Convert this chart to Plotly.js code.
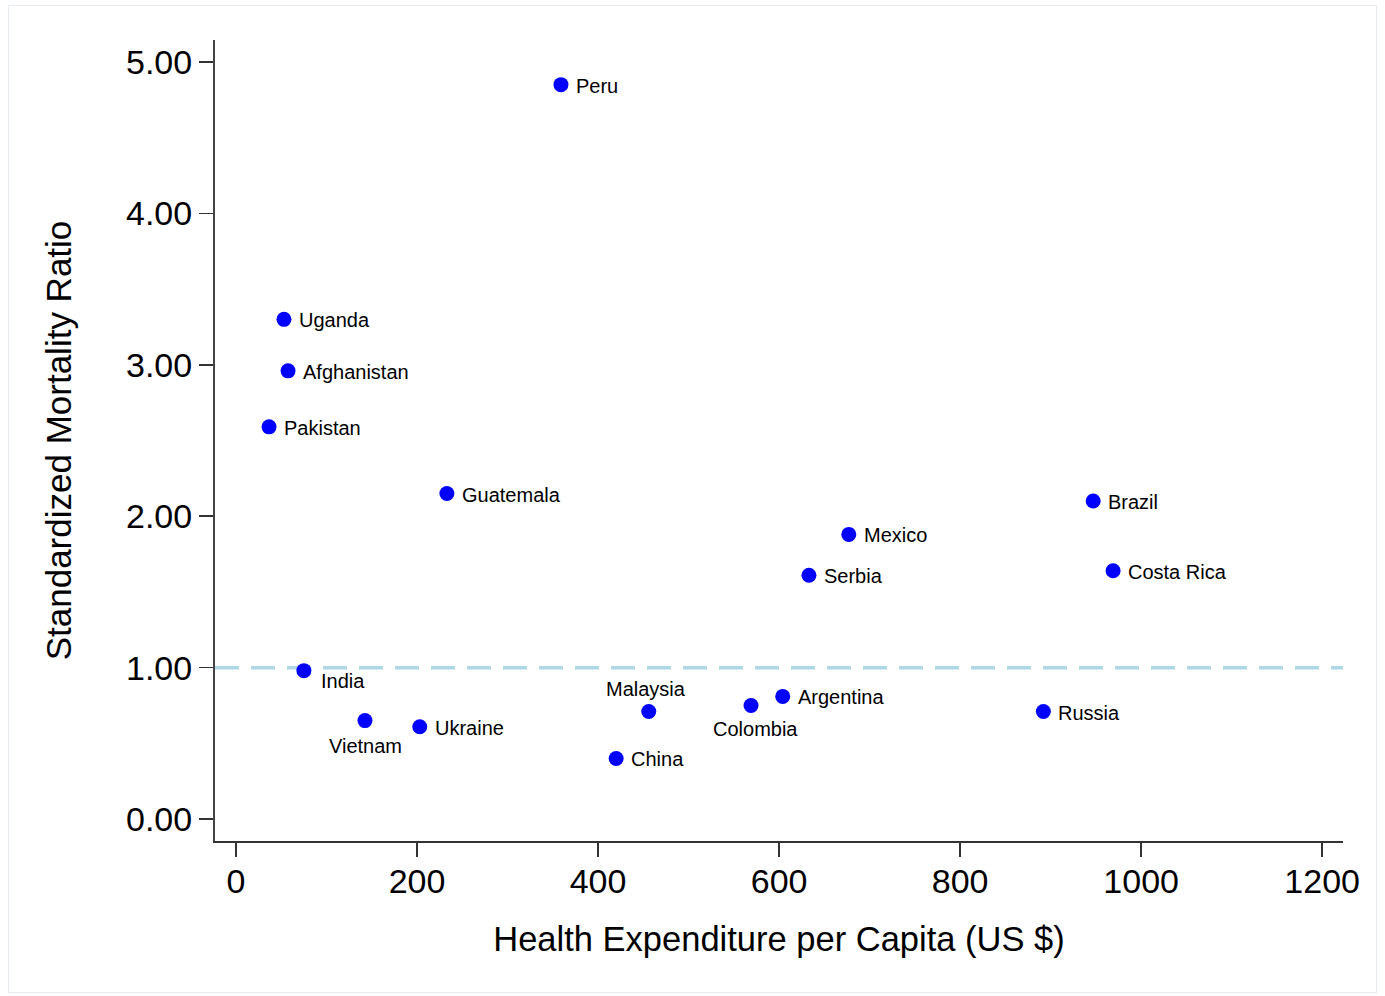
<!DOCTYPE html>
<html>
<head>
<meta charset="utf-8">
<script src="https://cdn.plot.ly/plotly-3.0.1.min.js"></script>
<style>
  html, body { margin: 0; padding: 0; background: #ffffff; }
  #frame { position: absolute; left: 8px; top: 5px; width: 1369px; height: 988px; border: 1px solid #e6ecf0; box-sizing: border-box; }
  #chart { position: absolute; left: 0; top: 0; width: 1385px; height: 996px; }
</style>
</head>
<body>
<div id="frame"></div>
<div id="chart"></div>
<script>
const countries = ["Peru","Uganda","Afghanistan","Pakistan","Guatemala","Brazil","Mexico","Serbia","Costa Rica","India","Vietnam","Ukraine","Malaysia","China","Colombia","Argentina","Russia"];
const expenditure = [359, 53, 57.5, 36.5, 233, 947, 677, 633, 969, 75, 142.5, 203, 456, 420, 569, 604, 892];
const smr = [4.85, 3.30, 2.96, 2.59, 2.15, 2.10, 1.88, 1.61, 1.64, 0.98, 0.65, 0.61, 0.71, 0.40, 0.75, 0.81, 0.71];
const xTicks = [0, 200, 400, 600, 800, 1000, 1200];
const yTicks = [0, 1, 2, 3, 4, 5];
const yTickText = ["0.00","1.00","2.00","3.00","4.00","5.00"];
const referenceLine = 1.0;

// label placement style (pixel offsets from the marker)
const labelStyle = {
  "India":    { xanchor: "left",   xshift: 15, yshift: -10 },
  "Vietnam":  { xanchor: "center", xshift: 1,  yshift: -25 },
  "Malaysia": { xanchor: "center", xshift: -3, yshift: 23 },
  "Colombia": { xanchor: "center", xshift: 4,  yshift: -24 }
};
const defaultLabel = { xanchor: "left", xshift: 13, yshift: -1 };

const FONT = "Liberation Sans, Arial, sans-serif";

const trace = {
  type: "scatter",
  mode: "markers",
  x: expenditure,
  y: smr,
  text: countries,
  marker: { color: "#0000ff", size: 15 },
  cliponaxis: false,
  hoverinfo: "x+y+text"
};

const annotations = countries.map((c, i) => {
  const s = labelStyle[c] || defaultLabel;
  return {
    x: expenditure[i], y: smr[i], xref: "x", yref: "y",
    text: c, showarrow: false,
    xanchor: s.xanchor, yanchor: "middle",
    xshift: s.xshift, yshift: s.yshift,
    font: { family: FONT, size: 20, color: "#000000" }
  };
});

const layout = {
  width: 1385, height: 996,
  paper_bgcolor: "rgba(0,0,0,0)", plot_bgcolor: "rgba(0,0,0,0)",
  margin: { l: 215, r: 42, t: 40, b: 155 },
  showlegend: false,
  font: { family: FONT, color: "#000000" },
  xaxis: {
    range: [-23.2, 1223],
    tickvals: xTicks,
    ticktext: xTicks.map(String),
    ticks: "outside", ticklen: 14, tickwidth: 1.5, tickcolor: "#333333",
    ticklabelstandoff: -5,
    showgrid: false, zeroline: false,
    showline: true, linecolor: "#333333", linewidth: 2,
    tickfont: { size: 34 },
    title: { text: "Health Expenditure per Capita (US $)", font: { size: 34.5 }, standoff: 28 }
  },
  yaxis: {
    range: [-0.145, 5.145],
    tickvals: yTicks,
    ticktext: yTickText,
    ticks: "outside", ticklen: 14, tickwidth: 1.5, tickcolor: "#333333",
    showgrid: false, zeroline: false,
    showline: true, linecolor: "#444444", linewidth: 2,
    tickfont: { size: 34 },
    title: { text: "Standardized Mortality Ratio", font: { size: 35 }, standoff: 44 }
  },
  annotations: annotations,
  shapes: [{
    type: "line", xref: "paper", x0: 0, x1: 1, yref: "y", y0: referenceLine, y1: referenceLine,
    line: { color: "#add8e6", width: 3.5, dash: "24px,12px" }, layer: "below"
  }]
};

Plotly.newPlot("chart", [trace], layout, { displayModeBar: false, staticPlot: true });
</script>
</body>
</html>
